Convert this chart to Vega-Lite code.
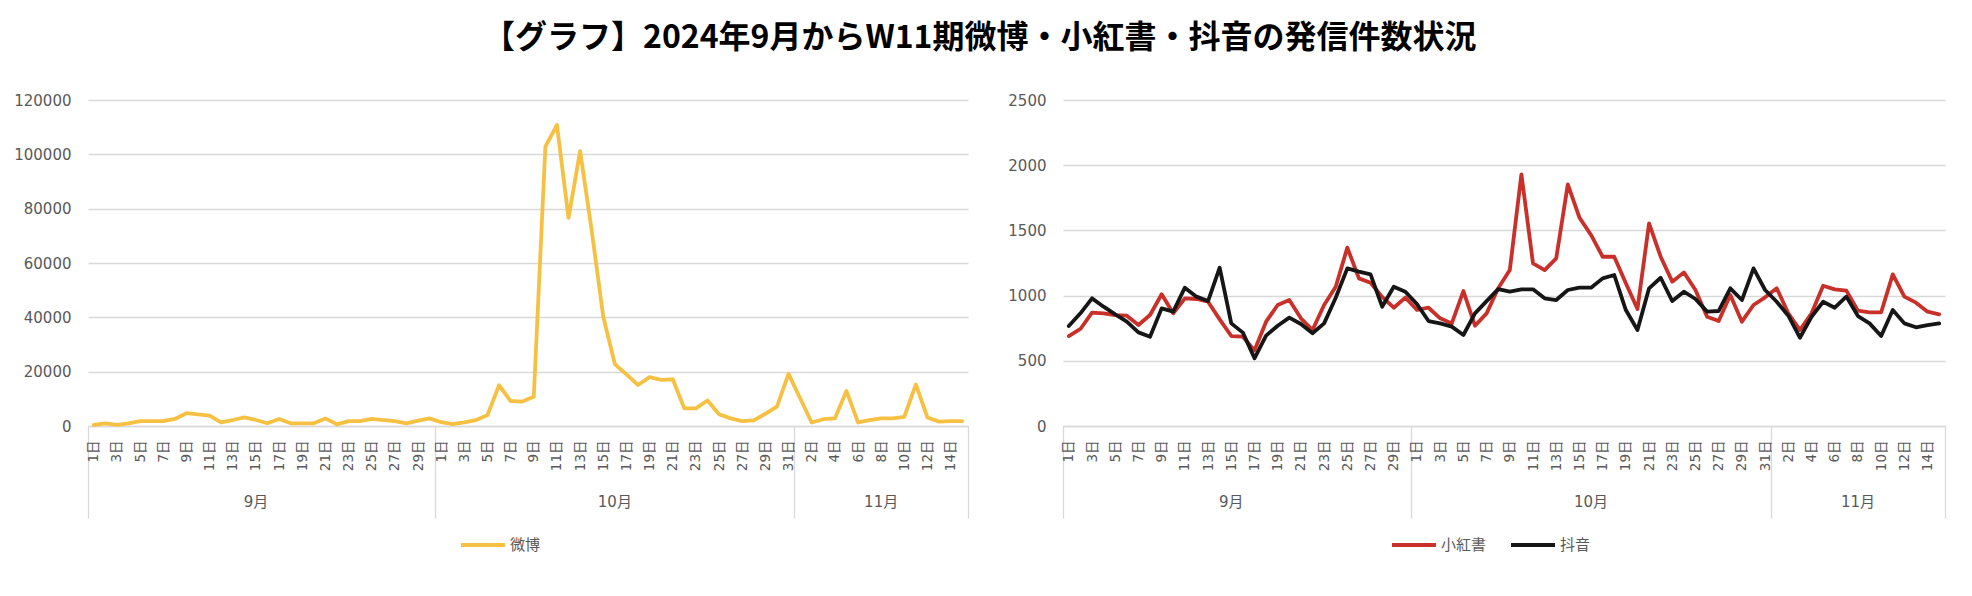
{
  "$schema": "https://vega.github.io/schema/vega-lite/v6.json",
  "title": {
    "text": "【グラフ】2024年9月からW11期微博・小紅書・抖音の発信件数状況",
    "font": "Noto Sans CJK JP",
    "fontSize": 32,
    "fontWeight": "bold",
    "color": "#000000",
    "anchor": "middle",
    "offset": 38
  },
  "padding": {"left": 13, "top": 22, "right": 5, "bottom": 5},
  "spacing": 38,
  "resolve": {"scale": {"color": "independent"}, "legend": {"color": "independent"}},
  "config": {
    "view": {"stroke": null},
    "font": "DejaVu Sans",
    "axis": {
      "labelFont": "DejaVu Sans, Noto Sans CJK JP",
      "labelColor": "#595959",
      "labelFontSize": 15,
      "gridColor": "#d9d9d9",
      "gridWidth": 1.3,
      "domainColor": "#d9d9d9",
      "domainWidth": 1.3
    },
    "axisY": {"domain": false, "ticks": false, "labelPadding": 17}
  },
  "data": {
    "values": [
      {"date": "2024-09-01", "微博": 400, "小紅書": 690, "抖音": 767},
      {"date": "2024-09-02", "微博": 1000, "小紅書": 744, "抖音": 864},
      {"date": "2024-09-03", "微博": 400, "小紅書": 869, "抖音": 979},
      {"date": "2024-09-04", "微博": 1000, "小紅書": 864, "抖音": 915},
      {"date": "2024-09-05", "微博": 1800, "小紅書": 851, "抖音": 856},
      {"date": "2024-09-06", "微博": 1800, "小紅書": 846, "抖音": 800},
      {"date": "2024-09-07", "微博": 1800, "小紅書": 775, "抖音": 718},
      {"date": "2024-09-08", "微博": 2600, "小紅書": 851, "抖音": 685},
      {"date": "2024-09-09", "微博": 4700, "小紅書": 1010, "抖音": 902},
      {"date": "2024-09-10", "微博": 4300, "小紅書": 864, "抖音": 877},
      {"date": "2024-09-11", "微博": 3800, "小紅書": 979, "抖音": 1061},
      {"date": "2024-09-12", "微博": 1300, "小紅書": 974, "抖音": 992},
      {"date": "2024-09-13", "微博": 2200, "小紅書": 953, "抖音": 958},
      {"date": "2024-09-14", "微博": 3200, "小紅書": 818, "抖音": 1214},
      {"date": "2024-09-15", "微博": 2200, "小紅書": 690, "抖音": 787},
      {"date": "2024-09-16", "微博": 1000, "小紅書": 685, "抖音": 716},
      {"date": "2024-09-17", "微博": 2600, "小紅書": 580, "抖音": 519},
      {"date": "2024-09-18", "微博": 1000, "小紅書": 800, "抖音": 693},
      {"date": "2024-09-19", "微博": 1000, "小紅書": 928, "抖音": 769},
      {"date": "2024-09-20", "微博": 1000, "小紅書": 966, "抖音": 831},
      {"date": "2024-09-21", "微博": 2800, "小紅書": 826, "抖音": 782},
      {"date": "2024-09-22", "微博": 600, "小紅書": 736, "抖音": 711},
      {"date": "2024-09-23", "微博": 1800, "小紅書": 928, "抖音": 787},
      {"date": "2024-09-24", "微博": 1800, "小紅書": 1068, "抖音": 984},
      {"date": "2024-09-25", "微博": 2600, "小紅書": 1368, "抖音": 1209},
      {"date": "2024-09-26", "微博": 2200, "小紅書": 1132, "抖音": 1184},
      {"date": "2024-09-27", "微博": 1800, "小紅書": 1099, "抖音": 1163},
      {"date": "2024-09-28", "微博": 1000, "小紅書": 990, "抖音": 915},
      {"date": "2024-09-29", "微博": 2000, "小紅書": 907, "抖音": 1068},
      {"date": "2024-09-30", "微博": 2800, "小紅書": 985, "抖音": 1030},
      {"date": "2024-10-01", "微博": 1400, "小紅書": 890, "抖音": 935},
      {"date": "2024-10-02", "微博": 700, "小紅書": 907, "抖音": 805},
      {"date": "2024-10-03", "微博": 1300, "小紅書": 826, "抖音": 787},
      {"date": "2024-10-04", "微博": 2200, "小紅書": 787, "抖音": 762},
      {"date": "2024-10-05", "微博": 4000, "小紅書": 1035, "抖音": 698},
      {"date": "2024-10-06", "微博": 15000, "小紅書": 769, "抖音": 864},
      {"date": "2024-10-07", "微博": 9200, "小紅書": 864, "抖音": 958},
      {"date": "2024-10-08", "微博": 9000, "小紅書": 1056, "抖音": 1050},
      {"date": "2024-10-09", "微博": 10800, "小紅書": 1196, "抖音": 1030},
      {"date": "2024-10-10", "微博": 102800, "小紅書": 1930, "抖音": 1048},
      {"date": "2024-10-11", "微博": 110800, "小紅書": 1247, "抖音": 1048},
      {"date": "2024-10-12", "微博": 76600, "小紅書": 1196, "抖音": 979},
      {"date": "2024-10-13", "微博": 101200, "小紅書": 1286, "抖音": 966},
      {"date": "2024-10-14", "微博": 72000, "小紅書": 1853, "抖音": 1043},
      {"date": "2024-10-15", "微博": 40200, "小紅書": 1598, "抖音": 1061},
      {"date": "2024-10-16", "微博": 22800, "小紅書": 1465, "抖音": 1061},
      {"date": "2024-10-17", "微博": 19000, "小紅書": 1298, "抖音": 1132},
      {"date": "2024-10-18", "微博": 15100, "小紅書": 1298, "抖音": 1158},
      {"date": "2024-10-19", "微博": 18000, "小紅書": 1094, "抖音": 889},
      {"date": "2024-10-20", "微博": 17000, "小紅書": 897, "抖音": 736},
      {"date": "2024-10-21", "微博": 17200, "小紅書": 1554, "抖音": 1056},
      {"date": "2024-10-22", "微博": 6500, "小紅書": 1298, "抖音": 1137},
      {"date": "2024-10-23", "微博": 6500, "小紅書": 1107, "抖音": 958},
      {"date": "2024-10-24", "微博": 9400, "小紅書": 1178, "抖音": 1030},
      {"date": "2024-10-25", "微博": 4300, "小紅書": 1043, "抖音": 974},
      {"date": "2024-10-26", "微博": 2800, "小紅書": 838, "抖音": 877},
      {"date": "2024-10-27", "微博": 1800, "小紅書": 805, "抖音": 882},
      {"date": "2024-10-28", "微博": 2100, "小紅書": 1004, "抖音": 1056},
      {"date": "2024-10-29", "微博": 4500, "小紅書": 800, "抖音": 966},
      {"date": "2024-10-30", "微博": 7100, "小紅書": 928, "抖音": 1209},
      {"date": "2024-10-31", "微博": 19200, "小紅書": 987, "抖音": 1043},
      {"date": "2024-11-01", "微博": 10200, "小紅書": 1056, "抖音": 953},
      {"date": "2024-11-02", "微博": 1300, "小紅書": 864, "抖音": 846},
      {"date": "2024-11-03", "微博": 2500, "小紅書": 736, "抖音": 677},
      {"date": "2024-11-04", "微博": 2800, "小紅書": 864, "抖音": 838},
      {"date": "2024-11-05", "微博": 12900, "小紅書": 1076, "抖音": 953},
      {"date": "2024-11-06", "微博": 1300, "小紅書": 1048, "抖音": 907},
      {"date": "2024-11-07", "微博": 2200, "小紅書": 1038, "抖音": 992},
      {"date": "2024-11-08", "微博": 2800, "小紅書": 884, "抖音": 843},
      {"date": "2024-11-09", "微博": 2800, "小紅書": 872, "抖音": 787},
      {"date": "2024-11-10", "微博": 3400, "小紅書": 872, "抖音": 690},
      {"date": "2024-11-11", "微博": 15300, "小紅書": 1163, "抖音": 889},
      {"date": "2024-11-12", "微博": 3100, "小紅書": 992, "抖音": 787},
      {"date": "2024-11-13", "微博": 1600, "小紅書": 946, "抖音": 757},
      {"date": "2024-11-14", "微博": 1800, "小紅書": 877, "抖音": 774},
      {"date": "2024-11-15", "微博": 1800, "小紅書": 856, "抖音": 787}
    ]
  },
  "hconcat": [
    {
      "width": 880,
      "height": 326,
      "transform": [{"fold": ["微博"], "as": ["platform", "count"]}],
      "layer": [
        {
          "mark": {"type": "line", "strokeWidth": 3.8, "strokeCap": "round", "strokeJoin": "round"},
          "encoding": {
            "x": {
              "field": "date",
              "type": "ordinal",
              "scale": {"type": "band", "paddingInner": 0, "paddingOuter": 0},
              "axis": {
                "title": null,
                "orient": "bottom",
                "grid": false,
                "labelAngle": -90,
                "labelOverlap": false,
                "labelFontSize": 13.5,
                "labelPadding": -78,
                "labelExpr": "round((toDate(datum.value) - toDate('2024-09-01')) / 86400000) % 2 == 0 ? utcdate(toDate(datum.value)) + '日' : ''",
                "tickBand": "extent",
                "tickSize": 92,
                "tickColor": "#d9d9d9",
                "tickWidth": 1.3,
                "tickOpacity": {"condition": {"test": "datum.extra || indexof(['2024-09-30', '2024-10-31', '2024-11-15'], datum.value) >= 0", "value": 1}, "value": 0}
              }
            },
            "y": {
              "field": "count",
              "type": "quantitative",
              "scale": {"domain": [0, 120000]},
              "axis": {"title": null, "values": [0, 20000, 40000, 60000, 80000, 100000, 120000], "format": "d"}
            },
            "color": {
              "field": "platform",
              "type": "nominal",
              "scale": {"domain": ["微博"], "range": ["#F6C143"]},
              "legend": {"title": null, "orient": "none", "legendX": 371, "legendY": 421, "direction": "horizontal", "symbolSize": 1936, "symbolStrokeWidth": 4, "labelFont": "Noto Sans CJK JP", "labelFontSize": 15, "labelColor": "#595959", "labelOffset": 3}
            }
          }
        },
        {
          "mark": {"type": "point", "opacity": 0},
          "encoding": {
            "x": {
              "field": "date",
              "type": "ordinal",
              "scale": {"type": "band", "paddingInner": 0, "paddingOuter": 0},
              "axis": {
                "title": null,
                "orient": "bottom",
                "grid": false,
                "domain": false,
                "ticks": false,
                "labelAngle": 0,
                "labelPadding": 68,
                "labelFontSize": 15,
                "values": ["2024-09-15", "2024-10-16", "2024-11-08"],
                "labelExpr": "(utcmonth(toDate(datum.value)) + 1) + '月'"
              }
            }
          }
        }
      ],
      "resolve": {"axis": {"x": "independent"}}
    },
    {
      "width": 882,
      "height": 326,
      "transform": [{"fold": ["小紅書", "抖音"], "as": ["platform", "count"]}],
      "layer": [
        {
          "mark": {"type": "line", "strokeWidth": 3.8, "strokeCap": "round", "strokeJoin": "round"},
          "encoding": {
            "x": {
              "field": "date",
              "type": "ordinal",
              "scale": {"type": "band", "paddingInner": 0, "paddingOuter": 0},
              "axis": {
                "title": null,
                "orient": "bottom",
                "grid": false,
                "labelAngle": -90,
                "labelOverlap": false,
                "labelFontSize": 13.5,
                "labelPadding": -78,
                "labelExpr": "round((toDate(datum.value) - toDate('2024-09-01')) / 86400000) % 2 == 0 ? utcdate(toDate(datum.value)) + '日' : ''",
                "tickBand": "extent",
                "tickSize": 92,
                "tickColor": "#d9d9d9",
                "tickWidth": 1.3,
                "tickOpacity": {"condition": {"test": "datum.extra || indexof(['2024-09-30', '2024-10-31', '2024-11-15'], datum.value) >= 0", "value": 1}, "value": 0}
              }
            },
            "y": {
              "field": "count",
              "type": "quantitative",
              "scale": {"domain": [0, 2500]},
              "axis": {"title": null, "values": [0, 500, 1000, 1500, 2000, 2500], "format": "d"}
            },
            "color": {
              "field": "platform",
              "type": "nominal",
              "scale": {"domain": ["小紅書", "抖音"], "range": ["#C9302A", "#161616"]},
              "legend": {"title": null, "orient": "none", "legendX": 327, "legendY": 421, "direction": "horizontal", "symbolSize": 1936, "symbolStrokeWidth": 4, "labelFont": "Noto Sans CJK JP", "labelFontSize": 15, "labelColor": "#595959", "labelOffset": 3, "columnPadding": 16}
            }
          }
        },
        {
          "mark": {"type": "point", "opacity": 0},
          "encoding": {
            "x": {
              "field": "date",
              "type": "ordinal",
              "scale": {"type": "band", "paddingInner": 0, "paddingOuter": 0},
              "axis": {
                "title": null,
                "orient": "bottom",
                "grid": false,
                "domain": false,
                "ticks": false,
                "labelAngle": 0,
                "labelPadding": 68,
                "labelFontSize": 15,
                "values": ["2024-09-15", "2024-10-16", "2024-11-08"],
                "labelExpr": "(utcmonth(toDate(datum.value)) + 1) + '月'"
              }
            }
          }
        }
      ],
      "resolve": {"axis": {"x": "independent"}}
    }
  ]
}
